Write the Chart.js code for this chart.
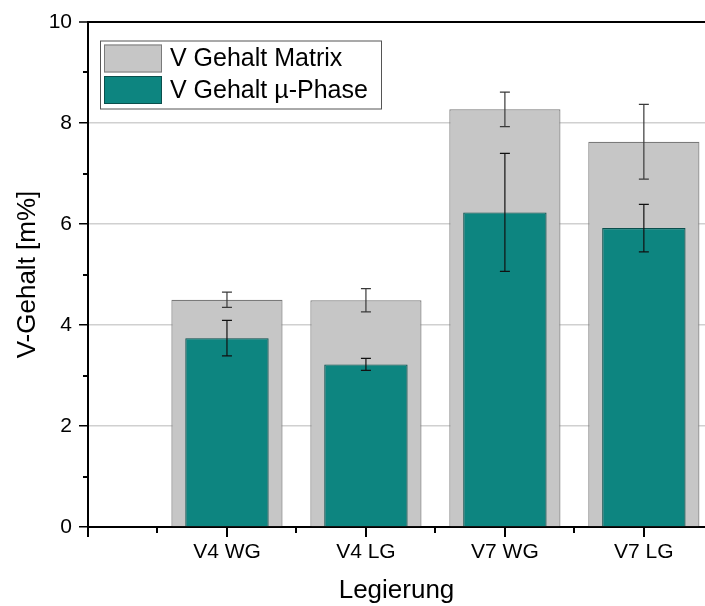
<!DOCTYPE html>
<html>
<head>
<meta charset="utf-8">
<script src="https://cdn.jsdelivr.net/npm/chart.js@4/dist/chart.umd.min.js"></script>
<style>
  html, body { margin: 0; padding: 0; background: #fff; }
  #wrap { width: 705px; height: 606px; }
</style>
</head>
<body>
<div id="wrap"><canvas id="myChart" width="705" height="606"></canvas></div>
<script>
// Data
var categories = ["V4 WG", "V4 LG", "V7 WG", "V7 LG"];
var matrixValues = [4.50, 4.49, 8.27, 7.63];
var matrixErrors = [0.15, 0.23, 0.34, 0.74];
var muValues = [3.74, 3.22, 6.23, 5.92];
var muErrors = [0.35, 0.12, 1.17, 0.47];
var yMajorTicks = [0, 2, 4, 6, 8, 10];
var xMajorTicks = [0, 1, 2, 3, 4];
var xMinorTicks = [0.5, 1.5, 2.5, 3.5];
var yMinorTicks = [1, 3, 5, 7, 9];

function toPoints(values) {
  return values.map(function (v, i) { return { x: i + 1, y: v }; });
}

// error bars, drawn right after each dataset
var errorBars = {
  id: "errorBars",
  afterDatasetDraw: function (chart, args) {
    var ds = chart.data.datasets[args.index];
    if (!ds.errors) return;
    var y = chart.scales.y;
    var ctx = chart.ctx;
    ctx.save();
    ctx.strokeStyle = ds.errorColor;
    ctx.lineWidth = 1.2;
    args.meta.data.forEach(function (bar, i) {
      var v = ds.data[i].y, e = ds.errors[i];
      var top = y.getPixelForValue(v + e);
      var bot = y.getPixelForValue(v - e);
      ctx.beginPath();
      ctx.moveTo(bar.x, top); ctx.lineTo(bar.x, bot);
      ctx.moveTo(bar.x - 5, top); ctx.lineTo(bar.x + 5, top);
      ctx.moveTo(bar.x - 5, bot); ctx.lineTo(bar.x + 5, bot);
      ctx.stroke();
    });
    ctx.restore();
  }
};

// x ticks, minor y ticks + framed legend inside the plot
var extras = {
  id: "extras",
  afterDraw: function (chart) {
    var ctx = chart.ctx, a = chart.chartArea;
    var xs = chart.scales.x, ys = chart.scales.y;
    var base = Math.round(a.bottom);
    ctx.save();
    ctx.fillStyle = "#000";
    yMinorTicks.forEach(function (v) {
      var py = Math.round(ys.getPixelForValue(v));
      ctx.fillRect(a.left - 5, py - 1, 5, 2);
    });
    xMajorTicks.forEach(function (v) {
      var px = Math.round(xs.getPixelForValue(v));
      ctx.fillRect(px - 1, base, 2, 10);
    });
    xMinorTicks.forEach(function (v) {
      var px = Math.round(xs.getPixelForValue(v));
      ctx.fillRect(px - 1, base, 2, 6);
    });

    // legend
    var lx = a.left + 12, ly = a.top + 18.5;
    ctx.fillStyle = "#fff";
    ctx.fillRect(lx, ly, 281, 68);
    ctx.strokeStyle = "#555";
    ctx.lineWidth = 1;
    ctx.strokeRect(lx + 0.5, ly + 0.5, 281, 68);
    ctx.font = "25px 'Liberation Sans', Arial, sans-serif";
    ctx.textBaseline = "middle";
    chart.data.datasets.forEach(function (ds, i) {
      var sy = ly + 4 + i * 31.5;
      ctx.fillStyle = ds.backgroundColor;
      ctx.fillRect(lx + 4, sy, 58, 28);
      ctx.strokeStyle = ds.borderColor;
      ctx.strokeRect(lx + 4.5, sy + 0.5, 57, 27);
      ctx.fillStyle = "#000";
      ctx.fillText(ds.label, lx + 70, sy + 15);
    });
    ctx.restore();
  }
};

var chartData = {
  datasets: [
    {
      label: "V Gehalt Matrix",
      data: toPoints(matrixValues),
      errors: matrixErrors,
      errorColor: "#3a3a3a",
      backgroundColor: "#c6c6c6",
      borderColor: "#7a7a7a",
      borderWidth: 1.2,
      barPercentage: 0.8,
      categoryPercentage: 1.0,
      order: 2
    },
    {
      label: "V Gehalt \u00b5-Phase",
      data: toPoints(muValues),
      errors: muErrors,
      errorColor: "#111",
      backgroundColor: "#0d8580",
      borderColor: "#0a4f4c",
      borderWidth: 1.2,
      barPercentage: 0.6,
      categoryPercentage: 1.0,
      order: 1
    }
  ]
};

var tickFont = { family: "'Liberation Sans', Arial, sans-serif", size: 21 };
var titleFont = { family: "'Liberation Sans', Arial, sans-serif", size: 26 };

const config = {
  type: "bar",
  data: chartData,
  options: {
    responsive: false,
    animation: false,
    grouped: false,
    layout: { padding: { top: 22, right: 0, left: 0, bottom: 0 } },
    plugins: { legend: { display: false }, tooltip: { enabled: false } },
    scales: {
      x: {
        type: "linear",
        min: 0,
        max: 4.44,
        offset: false,
        afterBuildTicks: function (s) {
          s.ticks = xMajorTicks.map(function (v) { return { value: v }; });
        },
        afterFit: function (s) { s.height = 79; },
        ticks: {
          color: "#000",
          font: tickFont,
          padding: 4,
          autoSkip: false,
          maxRotation: 0,
          callback: function (v) { return categories[v - 1] || ""; }
        },
        grid: { offset: false, drawOnChartArea: false, tickLength: 9, tickColor: "transparent" },
        border: { color: "#000", width: 2 },
        title: { display: true, text: "Legierung", color: "#000", font: titleFont, padding: { top: 0, bottom: 0 } }
      },
      y: {
        min: 0,
        max: 10,
        afterBuildTicks: function (s) {
          s.ticks = yMajorTicks.map(function (v) { return { value: v }; });
        },
        afterFit: function (s) { s.width = 88; },
        ticks: { color: "#000", font: tickFont, padding: 7 },
        grid: {
          tickLength: 9,
          tickColor: "#000",
          tickWidth: 1.5,
          color: function (c) {
            if (!c.tick) return "transparent";
            if (c.tick.value === 10) return "#000";
            if (c.tick.value === 0) return "transparent";
            return "#d0d0d0";
          },
          lineWidth: function (c) { return c.tick && c.tick.value === 10 ? 2 : 1.5; }
        },
        border: { color: "#000", width: 2 },
        title: { display: true, text: "V-Gehalt [m%]", color: "#000", font: titleFont, padding: { top: 12, bottom: 0 } }
      }
    }
  },
  plugins: [errorBars, extras]
};
const myChart = new Chart(document.getElementById("myChart"), config);
</script>
</body>
</html>
